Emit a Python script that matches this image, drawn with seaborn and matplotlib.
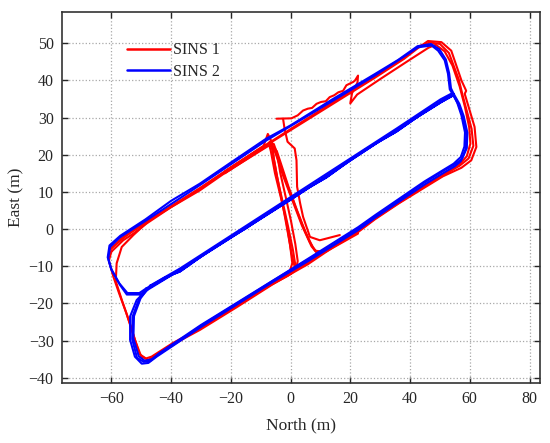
import matplotlib
matplotlib.use("Agg")
import matplotlib.pyplot as plt
import pandas as pd
import seaborn as sns
from matplotlib.lines import Line2D

##################################################################
# trajectory samples (north, east) in metres
##################################################################

# SINS 1 (red)
sins1_outer_a = [(-60.0, -6.1), (-56.0, -3.0), (-52.6, -1.2), (-48.2, 1.5), (-40.0, 5.9), (-30.4, 10.4),
                 (-20.0, 16.2), (-8.0, 22.6), (0.0, 26.6), (14.0, 33.6), (28.2, 40.7), (38.0, 45.8),
                 (42.5, 48.6), (46.0, 50.6), (50.5, 50.3), (53.8, 48.0), (57.2, 40.0), (58.8, 37.2),
                 (58.3, 36.4), (61.6, 27.5), (62.2, 22.1), (60.5, 18.5), (57.2, 16.5), (51.0, 14.2),
                 (44.9, 11.2), (36.0, 6.8), (28.2, 2.6), (22.6, -0.8), (14.0, -5.0), (5.9, -9.4),
                 (-5.5, -14.6), (-18.0, -21.0), (-30.3, -27.1), (-39.3, -31.0), (-45.0, -34.0),
                 (-47.6, -35.2), (-50.0, -34.2), (-52.0, -30.0), (-55.0, -22.5), (-57.5, -17.0),
                 (-59.3, -12.8), (-60.8, -8.5), (-60.0, -6.1)]
sins1_outer_b = [(-60.4, -5.6), (-56.5, -2.4), (-48.0, 2.0), (-38.0, 6.9), (-30.4, 10.9), (-20.0, 16.6),
                 (-9.5, 22.0), (0.0, 26.9), (14.0, 34.0), (28.2, 41.0), (38.0, 46.2), (43.0, 49.2),
                 (46.6, 50.2), (50.0, 49.8), (53.0, 47.4), (56.3, 40.3), (57.6, 36.0), (60.6, 27.0),
                 (61.2, 22.4), (59.6, 19.0), (56.5, 17.0), (50.5, 14.6), (44.9, 11.6), (36.0, 7.2),
                 (28.2, 3.0), (22.6, -0.4), (14.0, -4.6), (5.9, -9.0), (-5.5, -14.3), (-18.0, -20.6),
                 (-30.3, -26.7), (-39.3, -30.6), (-46.5, -34.3), (-48.4, -34.8), (-50.6, -33.6),
                 (-53.5, -26.0), (-56.5, -19.0), (-58.5, -14.0), (-58.2, -9.2), (-56.5, -4.8),
                 (-52.6, -1.6), (-48.0, 1.8)]
sins1_cross_a = [(-22.0, 15.2), (-8.6, 22.2), (-7.2, 22.8), (-6.6, 21.0), (-5.2, 15.0), (-3.2, 8.4),
                 (-1.4, 2.0), (-0.2, -4.0), (0.6, -9.2), (-0.4, -11.6), (-3.6, -13.2), (-8.0, -15.4)]
sins1_cross_b = [(-22.0, 15.5), (-9.0, 22.4), (-7.6, 25.6), (-6.0, 23.0), (-5.6, 19.0), (-4.0, 12.0),
                 (-2.4, 5.6), (-0.8, -1.4), (0.4, -6.8), (1.4, -10.2), (0.2, -12.0), (-3.8, -13.6),
                 (-8.0, -15.7)]
sins1_cross_c = [(-22.0, 15.0), (-8.0, 22.3), (-5.6, 22.9), (-4.6, 20.6), (-3.4, 15.0), (-1.6, 8.6),
                 (0.2, 2.0), (1.6, -4.0), (2.4, -8.6), (1.8, -11.0), (-1.0, -12.6), (-6.0, -14.8)]
sins1_cross_d = [(-22.0, 15.3), (-8.2, 22.4), (-6.8, 23.6), (-6.2, 21.6), (-4.6, 14.4), (-2.6, 7.2),
                 (-0.8, 0.6), (0.8, -5.6), (1.6, -9.6), (0.8, -11.6), (-2.4, -13.0), (-8.0, -15.2)]
sins1_cross_e = [(-22.0, 15.4), (-7.6, 22.8), (-5.2, 21.8), (-4.0, 19.0), (-1.8, 13.4), (0.9, 7.6),
                 (3.8, 1.4), (6.4, -3.4), (8.2, -5.8), (10.2, -6.0), (14.0, -4.8), (22.6, -0.8)]
sins1_cross_f = [(-22.0, 15.1), (-7.0, 22.6), (-4.6, 21.0), (-3.2, 17.6), (-0.6, 11.2), (2.2, 5.0),
                 (5.0, -0.8), (7.4, -4.8), (9.2, -6.6), (12.0, -6.0), (22.6, -1.2)]
sins1_detour = [(-60.2, -5.2), (-55.0, -1.8), (-48.2, 2.0), (-30.4, 11.0), (-18.0, 17.6), (-9.0, 22.3),
                (-6.4, 22.8), (-5.0, 20.4), (-2.6, 14.6), (0.4, 8.2), (3.8, 1.0), (7.0, -4.6),
                (8.8, -6.4), (11.6, -5.6), (22.6, -0.6), (28.2, 2.8), (44.9, 11.6), (51.5, 14.6),
                (55.8, 16.8), (59.0, 19.6), (60.2, 23.0), (59.8, 27.4), (58.4, 32.8), (56.6, 38.4),
                (54.2, 44.0), (51.6, 47.8), (48.6, 49.6), (46.2, 48.8), (40.0, 45.6), (29.9, 40.3),
                (22.3, 36.2), (20.0, 33.8), (20.6, 36.6), (22.4, 39.4), (22.6, 41.3), (21.6, 40.0),
                (21.0, 39.6), (18.7, 38.7), (17.6, 37.2), (16.0, 36.8), (14.6, 36.0), (13.1, 35.5),
                (11.8, 34.4), (10.2, 34.2), (8.7, 33.7), (7.2, 32.6), (5.8, 32.4), (4.2, 31.9),
                (2.4, 30.6), (0.3, 29.8), (-4.7, 29.7)]
sins1_drop = [(-2.5, 29.7), (-2.0, 27.0), (-1.0, 23.5), (1.4, 21.7), (2.0, 18.5), (2.2, 11.4),
              (3.2, 7.0), (4.2, 3.3), (6.5, -2.1), (9.8, -3.0), (16.5, -1.6)]

# SINS 2 (blue), figure-of-eight laps
sins2_lap_a = [(-48.0, -16.4), (-50.4, -17.6), (-54.8, -17.6), (-57.1, -15.0), (-59.9, -11.0),
               (-61.0, -7.9), (-60.4, -4.8), (-57.1, -2.2), (-48.2, 2.4), (-30.4, 11.8), (-8.0, 23.9),
               (0.0, 27.7), (28.2, 41.3), (42.7, 48.9), (47.2, 49.4), (49.4, 48.0), (51.6, 45.4),
               (52.7, 41.8), (53.3, 37.6), (54.5, 36.0), (50.5, 34.2), (35.4, 26.6), (0.0, 7.9),
               (-37.0, -11.0), (-47.6, -15.9), (-51.5, -19.1), (-53.7, -23.5), (-53.7, -29.8),
               (-52.1, -34.3), (-49.8, -36.2), (-47.6, -36.0), (-44.8, -34.3), (-30.3, -26.5),
               (-5.5, -14.0), (5.9, -8.6), (22.6, -0.3), (28.2, 3.0), (44.9, 12.0), (52.0, 15.5),
               (55.0, 16.9), (57.0, 18.3), (58.6, 21.5), (58.9, 25.7), (57.7, 30.1), (56.2, 33.5),
               (54.5, 36.0), (50.5, 34.2), (35.4, 26.6), (0.0, 7.9), (-37.0, -11.0), (-48.0, -16.4)]
sins2_lap_b = [(-48.4, -16.0), (-50.6, -17.2), (-54.6, -17.2), (-57.3, -14.6), (-60.1, -10.6),
               (-61.2, -7.6), (-60.6, -4.4), (-57.0, -1.8), (-48.6, 2.6), (-40.0, 7.6), (-30.4, 12.2),
               (-20.0, 17.9), (-8.2, 24.3), (0.0, 27.9), (14.0, 34.9), (28.0, 41.6), (36.0, 45.5),
               (42.5, 49.2), (47.0, 49.8), (49.8, 48.4), (52.0, 45.6), (53.1, 41.9), (53.7, 37.9),
               (54.6, 36.4), (50.8, 34.6), (45.0, 31.6), (35.4, 26.2), (25.0, 21.4), (12.0, 13.9),
               (0.0, 8.3), (-15.0, 0.2), (-25.0, -4.6), (-37.0, -11.4), (-42.0, -13.0),
               (-47.2, -15.6), (-50.8, -19.0), (-52.9, -23.6), (-53.0, -29.6), (-51.4, -34.6),
               (-49.2, -35.7), (-47.0, -35.5), (-44.4, -33.8), (-38.0, -30.5), (-30.0, -26.0),
               (-18.0, -20.0), (-5.3, -13.6), (5.8, -8.2), (14.0, -4.4), (22.4, 0.1), (28.4, 3.4),
               (36.0, 7.6), (44.6, 12.4), (51.6, 15.9), (54.8, 17.3), (57.4, 18.9), (59.0, 21.8),
               (59.2, 25.9), (58.0, 30.3), (56.5, 33.7), (54.6, 36.4), (50.8, 34.6), (45.0, 31.6),
               (35.4, 26.2), (25.0, 21.4), (12.0, 13.9), (0.0, 8.3), (-15.0, 0.2), (-25.0, -4.6),
               (-37.0, -11.4), (-42.0, -13.0), (-48.4, -16.0)]
sins2_lap_c = [(-47.0, -15.2), (-50.2, -18.6), (-52.4, -23.4), (-52.6, -29.4), (-50.8, -34.2),
               (-48.8, -35.4), (-46.4, -35.0), (-44.0, -33.4), (-30.0, -25.8), (-5.0, -13.4),
               (6.0, -7.9), (22.6, 0.5), (28.4, 3.8), (44.8, 12.8), (54.6, 17.6), (57.0, 19.4),
               (58.2, 22.2), (58.4, 26.0), (57.2, 30.6), (55.8, 34.0), (54.2, 36.6), (50.2, 34.9),
               (35.4, 27.0), (0.0, 8.6), (-37.0, -10.6), (-47.0, -15.2)]

x_ticks = [-60, -40, -20, 0, 20, 40, 60, 80]
y_ticks = [-40, -30, -20, -10, 0, 10, 20, 30, 40, 50]
track_labels = ['SINS 1', 'SINS 2']
track_colors = ['#ff0000', '#0000ff']

sins1_segments = [sins1_outer_a, sins1_outer_b, sins1_cross_a, sins1_cross_b, sins1_cross_c,
                  sins1_cross_d, sins1_cross_e, sins1_cross_f, sins1_detour, sins1_drop]
sins2_segments = [sins2_lap_a, sins2_lap_b, sins2_lap_c]


def to_rows(track, segments):
    '''long table with one row per sample, one unit per segment'''
    rows = []
    for k, seg in enumerate(segments):
        for n, e in seg:
            rows.append({'track': track, 'segment': track + '_' + str(k), 'north': n, 'east': e})
    return rows


df = pd.DataFrame(to_rows('SINS 1', sins1_segments) + to_rows('SINS 2', sins2_segments))

sns.set_style("ticks")
plt.rcParams['font.family'] = ['Liberation Serif', 'DejaVu Serif']

fig = plt.figure(figsize=(5.5, 4.43), dpi=100)
ax = fig.add_axes([0.1127, 0.1354, 0.8691, 0.8375])

sns.lineplot(data=df, x='north', y='east', hue='track', hue_order=track_labels,
             palette=dict(zip(track_labels, track_colors)), units='segment', estimator=None,
             sort=False, lw=1.5, legend=False, ax=ax)

ax.set_xlim(-76.5, 83.5)
ax.set_ylim(-41.4, 58.4)
ax.set_xticks(x_ticks)
ax.set_yticks(y_ticks)
ax.grid(True, linestyle=':', color='#a8a8a8', lw=0.9)
ax.set_axisbelow(True)
ax.tick_params(direction='in', top=True, right=True, length=4, width=1.0,
               labelsize=11.5, colors='#262626', pad=6)
for s in ax.spines.values():
    s.set_color('#333333')
    s.set_linewidth(1.2)

ax.set_xlabel('North (m)', fontsize=12.5, color='#262626', labelpad=7)
ax.set_ylabel('East (m)', fontsize=12.5, color='#262626', labelpad=3)

handles = [Line2D([], [], color=c, lw=1.8) for c in track_colors]
ax.legend(handles, track_labels, loc='upper left', bbox_to_anchor=(0.136, 0.918), frameon=False,
          borderaxespad=0, borderpad=0, handlelength=2.7, handletextpad=0.2, labelspacing=0.35,
          fontsize=11.5)

fig.savefig('out.png', dpi=100)
